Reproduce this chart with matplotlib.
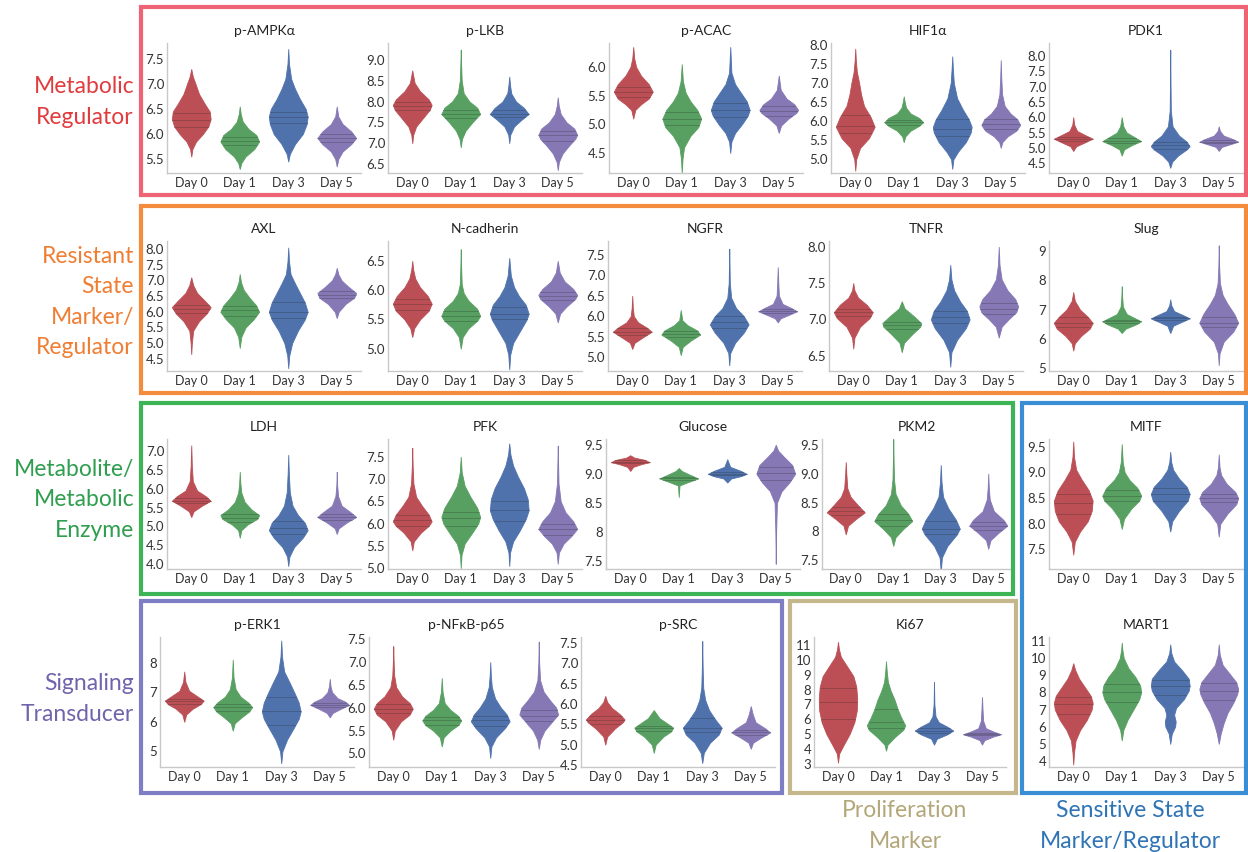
import numpy as np
import matplotlib.pyplot as plt
from matplotlib.patches import Rectangle

plt.rcParams['font.family'] = ['Lato', 'DejaVu Sans']

days = ['Day 0', 'Day 1', 'Day 3', 'Day 5']
day_colors = ['#bb4f55', '#58a062', '#4f72ad', '#8678b5']

# each violin: (expression values, relative density)
ampk = [([5.55, 5.7, 5.85, 6.0, 6.15, 6.3, 6.45, 6.6, 6.8, 7.0, 7.15, 7.3], [0, .06, .25, .6, .88, 1, .95, .7, .4, .22, .08, 0]),
        ([5.3, 5.42, 5.55, 5.7, 5.85, 5.98, 6.1, 6.25, 6.4, 6.55], [0, .08, .3, .75, 1, .85, .45, .15, .05, 0]),
        ([5.45, 5.6, 5.8, 6.0, 6.2, 6.35, 6.5, 6.7, 6.9, 7.1, 7.4, 7.7], [0, .08, .35, .75, .95, 1, .9, .6, .35, .15, .04, 0]),
        ([5.35, 5.5, 5.65, 5.8, 5.92, 6.05, 6.2, 6.35, 6.55], [0, .08, .3, .75, 1, .75, .3, .08, 0])]
ampk_q = [(6.15, 6.28, 6.42), (5.78, 5.86, 5.95), (6.22, 6.34, 6.45), (5.85, 5.92, 6.0)]

lkb = [([7.0, 7.2, 7.4, 7.6, 7.8, 7.92, 8.05, 8.25, 8.45, 8.75], [0, .05, .2, .55, .9, 1, .85, .4, .12, 0]),
       ([6.9, 7.1, 7.3, 7.5, 7.7, 7.85, 8.0, 8.2, 8.5, 8.9, 9.25], [0, .06, .25, .6, 1, .85, .45, .15, .05, .02, 0]),
       ([7.0, 7.2, 7.4, 7.55, 7.7, 7.85, 8.0, 8.2, 8.4, 8.6], [0, .05, .25, .6, 1, .75, .35, .1, .04, 0]),
       ([6.35, 6.55, 6.75, 6.95, 7.1, 7.2, 7.35, 7.5, 7.7, 7.9, 8.1], [0, .06, .25, .6, .9, 1, .85, .45, .15, .05, 0])]
lkb_q = [(7.8, 7.9, 8.0), (7.6, 7.7, 7.8), (7.62, 7.7, 7.8), (7.05, 7.2, 7.3)]

acac = [([5.1, 5.25, 5.35, 5.45, 5.57, 5.7, 5.85, 6.0, 6.15, 6.35], [0, .1, .4, .8, 1, .8, .4, .15, .05, 0]),
        ([4.15, 4.4, 4.6, 4.8, 4.95, 5.1, 5.25, 5.4, 5.55, 5.75, 6.05], [0, .04, .12, .45, .85, 1, .8, .45, .2, .06, 0]),
        ([4.5, 4.7, 4.85, 5.0, 5.15, 5.25, 5.4, 5.55, 5.7, 5.9, 6.35], [0, .06, .25, .6, .9, 1, .85, .55, .25, .06, 0]),
        ([4.85, 4.98, 5.1, 5.2, 5.25, 5.35, 5.45, 5.6, 5.85], [0, .12, .5, .9, 1, .8, .4, .1, 0])]
acac_q = [(5.48, 5.57, 5.66), (4.98, 5.1, 5.22), (5.12, 5.25, 5.37), (5.15, 5.23, 5.32)]

hif = [([4.7, 5.0, 5.3, 5.55, 5.85, 6.1, 6.4, 6.7, 7.0, 7.3, 7.6, 7.9], [0, .05, .25, .7, 1, .8, .45, .3, .2, .08, .03, 0]),
       ([5.45, 5.6, 5.75, 5.88, 5.97, 6.08, 6.2, 6.35, 6.5, 6.65], [0, .08, .35, .8, 1, .8, .35, .12, .05, 0]),
       ([4.75, 5.0, 5.2, 5.45, 5.7, 5.85, 6.05, 6.3, 6.6, 7.0, 7.4, 7.7], [0, .06, .3, .7, .95, 1, .85, .55, .25, .08, .03, 0]),
       ([5.3, 5.45, 5.6, 5.75, 5.9, 6.05, 6.2, 6.4, 6.7, 7.1, 7.6], [0, .08, .35, .8, 1, .85, .5, .2, .07, .03, 0])]
hif_q = [(5.7, 5.88, 6.15), (5.9, 5.97, 6.03), (5.6, 5.8, 6.05), (5.8, 5.92, 6.05)]

pdk1 = [([4.9, 5.05, 5.18, 5.3, 5.42, 5.55, 5.75, 6.0], [0, .15, .6, 1, .6, .2, .05, 0]),
        ([4.75, 4.95, 5.1, 5.22, 5.35, 5.5, 5.7, 6.0], [0, .12, .55, 1, .65, .25, .08, 0]),
        ([4.35, 4.55, 4.75, 4.95, 5.05, 5.2, 5.4, 5.7, 6.2, 7.0, 8.2], [0, .1, .4, .85, 1, .85, .45, .12, .03, .015, 0]),
        ([4.9, 5.03, 5.13, 5.2, 5.28, 5.4, 5.55, 5.7], [0, .15, .65, 1, .75, .25, .06, 0])]
pdk1_q = [(5.22, 5.3, 5.36), (5.15, 5.23, 5.32), (4.95, 5.08, 5.2), (5.15, 5.2, 5.26)]

axl = [([4.65, 5.0, 5.4, 5.7, 5.95, 6.15, 6.35, 6.6, 6.85, 7.1], [0, .03, .1, .4, .8, 1, .7, .3, .1, 0]),
       ([4.85, 5.2, 5.5, 5.75, 6.0, 6.2, 6.45, 6.7, 6.95, 7.2], [0, .08, .3, .7, 1, .85, .5, .2, .06, 0]),
       ([4.2, 4.6, 5.0, 5.4, 5.75, 6.0, 6.3, 6.6, 6.9, 7.2, 7.6, 8.05], [0, .05, .2, .5, .85, 1, .85, .6, .35, .12, .04, 0]),
       ([5.8, 6.0, 6.25, 6.45, 6.6, 6.8, 7.0, 7.2, 7.4], [0, .1, .45, .9, 1, .6, .25, .08, 0])]
axl_q = [(5.95, 6.1, 6.22), (5.85, 6.05, 6.2), (5.8, 6.0, 6.3), (6.45, 6.55, 6.65)]

ncad = [([5.2, 5.35, 5.5, 5.65, 5.77, 5.9, 6.05, 6.2, 6.35, 6.5], [0, .1, .4, .85, 1, .8, .4, .15, .05, 0]),
        ([5.0, 5.2, 5.35, 5.48, 5.56, 5.68, 5.82, 5.95, 6.1, 6.4, 6.7], [0, .1, .4, .85, 1, .85, .4, .15, .05, .02, 0]),
        ([4.65, 4.9, 5.1, 5.3, 5.5, 5.6, 5.75, 5.9, 6.05, 6.25, 6.55], [0, .05, .2, .55, .9, 1, .85, .5, .25, .08, 0]),
        ([5.45, 5.6, 5.72, 5.85, 5.92, 6.02, 6.15, 6.3, 6.5], [0, .12, .45, .9, 1, .8, .35, .1, 0])]
ncad_q = [(5.67, 5.77, 5.85), (5.48, 5.56, 5.64), (5.5, 5.6, 5.72), (5.83, 5.9, 5.97)]

ngfr = [([5.2, 5.35, 5.5, 5.62, 5.72, 5.85, 6.0, 6.2, 6.5], [0, .12, .6, 1, .75, .3, .08, .03, 0]),
        ([5.05, 5.25, 5.4, 5.55, 5.65, 5.78, 5.9, 6.15], [0, .1, .5, 1, .85, .35, .08, 0]),
        ([4.8, 5.1, 5.35, 5.6, 5.8, 6.0, 6.2, 6.45, 6.8, 7.2, 7.65], [0, .05, .3, .75, 1, .75, .35, .1, .03, .015, 0]),
        ([5.85, 5.95, 6.05, 6.12, 6.2, 6.3, 6.5, 6.8, 7.2], [0, .15, .65, 1, .7, .25, .06, .03, 0])]
ngfr_q = [(5.55, 5.62, 5.7), (5.48, 5.56, 5.63), (5.7, 5.85, 6.0), (6.07, 6.12, 6.18)]

tnfr = [([6.6, 6.75, 6.9, 7.02, 7.1, 7.2, 7.3, 7.4, 7.5], [0, .06, .35, .85, 1, .7, .25, .06, 0]),
        ([6.55, 6.68, 6.8, 6.9, 6.95, 7.05, 7.15, 7.25], [0, .12, .55, .95, 1, .6, .15, 0]),
        ([6.35, 6.55, 6.72, 6.88, 7.0, 7.12, 7.25, 7.4, 7.55, 7.75], [0, .06, .35, .8, 1, .85, .5, .2, .06, 0]),
        ([6.75, 6.9, 7.0, 7.1, 7.18, 7.28, 7.4, 7.55, 7.75, 8.0], [0, .15, .5, .9, 1, .85, .45, .15, .04, 0])]
tnfr_q = [(7.05, 7.1, 7.15), (6.87, 6.92, 6.97), (6.95, 7.03, 7.12), (7.08, 7.15, 7.22)]

slug = [([5.6, 5.85, 6.1, 6.35, 6.55, 6.75, 7.0, 7.3, 7.6], [0, .08, .4, .85, 1, .75, .35, .08, 0]),
        ([6.2, 6.35, 6.5, 6.6, 6.7, 6.85, 7.1, 7.45, 7.8], [0, .2, .75, 1, .7, .25, .06, .02, 0]),
        ([6.2, 6.45, 6.6, 6.7, 6.8, 6.95, 7.15, 7.35], [0, .15, .65, 1, .7, .2, .05, 0]),
        ([5.1, 5.5, 5.9, 6.25, 6.55, 6.85, 7.2, 7.5, 7.9, 8.5, 9.2], [0, .04, .25, .75, 1, .8, .45, .2, .06, .02, 0])]
slug_q = [(6.4, 6.55, 6.75), (6.55, 6.6, 6.65), (6.65, 6.7, 6.75), (6.4, 6.55, 6.75)]

ldh = [([5.25, 5.4, 5.55, 5.68, 5.8, 5.95, 6.2, 6.6, 7.15], [0, .12, .55, 1, .75, .3, .08, .03, 0]),
       ([4.7, 4.9, 5.05, 5.2, 5.3, 5.45, 5.65, 5.9, 6.15, 6.45], [0, .08, .4, .9, 1, .6, .25, .08, .03, 0]),
       ([3.95, 4.2, 4.45, 4.7, 4.9, 5.1, 5.3, 5.55, 5.9, 6.4, 6.9], [0, .06, .3, .75, 1, .85, .5, .22, .08, .03, 0]),
       ([4.8, 4.95, 5.1, 5.25, 5.38, 5.55, 5.8, 6.1, 6.45], [0, .1, .5, 1, .7, .25, .07, .02, 0])]
ldh_q = [(5.62, 5.68, 5.75), (5.12, 5.22, 5.32), (4.8, 4.95, 5.15), (5.18, 5.25, 5.32)]

pfk = [([5.4, 5.6, 5.8, 5.95, 6.05, 6.2, 6.4, 6.6, 6.9, 7.3, 7.7], [0, .08, .45, .85, 1, .85, .5, .2, .06, .02, 0]),
       ([5.0, 5.3, 5.55, 5.8, 6.0, 6.15, 6.35, 6.6, 6.85, 7.15, 7.5], [0, .04, .2, .6, .9, 1, .85, .5, .2, .05, 0]),
       ([5.05, 5.35, 5.6, 5.85, 6.1, 6.3, 6.55, 6.8, 7.05, 7.3, 7.55, 7.8], [0, .04, .2, .55, .85, 1, .95, .75, .45, .2, .06, 0]),
       ([5.1, 5.35, 5.55, 5.72, 5.88, 6.05, 6.25, 6.5, 6.9, 7.3, 7.75], [0, .06, .3, .7, 1, .8, .4, .15, .04, .02, 0])]
pfk_q = [(5.95, 6.08, 6.2), (5.95, 6.12, 6.25), (6.05, 6.3, 6.5), (5.75, 5.88, 6.0)]

glucose = [([9.05, 9.12, 9.17, 9.2, 9.24, 9.28, 9.32], [0, .15, .6, 1, .75, .2, 0]),
           ([8.6, 8.8, 8.86, 8.92, 8.98, 9.05, 9.1], [0, .04, .5, 1, .6, .15, 0]),
           ([8.85, 8.92, 8.96, 9.0, 9.05, 9.12, 9.25], [0, .2, .7, 1, .7, .15, 0]),
           ([7.45, 8.0, 8.5, 8.7, 8.85, 9.0, 9.15, 9.3, 9.4, 9.5], [0, .02, .06, .3, .7, 1, .85, .4, .12, 0])]
glucose_q = [(9.18, 9.2, 9.23), (8.9, 8.92, 8.95), (8.98, 9.0, 9.03), (8.9, 9.02, 9.12)]

pkm2 = [([7.95, 8.1, 8.22, 8.33, 8.45, 8.6, 8.75, 9.0, 9.2], [0, .12, .55, 1, .65, .25, .08, .03, 0]),
        ([7.75, 7.9, 8.05, 8.18, 8.3, 8.45, 8.65, 8.9, 9.2, 9.6], [0, .12, .55, 1, .8, .4, .12, .04, .02, 0]),
        ([7.3, 7.55, 7.75, 7.95, 8.05, 8.2, 8.4, 8.6, 8.85, 9.15], [0, .06, .35, .85, 1, .8, .4, .12, .04, 0]),
        ([7.7, 7.85, 7.98, 8.1, 8.2, 8.35, 8.55, 8.75, 9.0], [0, .12, .55, 1, .8, .3, .08, .03, 0])]
pkm2_q = [(8.28, 8.35, 8.42), (8.1, 8.2, 8.3), (7.95, 8.05, 8.18), (8.03, 8.1, 8.17)]

mitf = [([7.4, 7.65, 7.85, 8.05, 8.25, 8.45, 8.65, 8.85, 9.05, 9.3, 9.6], [0, .08, .35, .75, .95, 1, .8, .45, .15, .04, 0]),
        ([7.9, 8.1, 8.3, 8.45, 8.55, 8.7, 8.85, 9.0, 9.2, 9.55], [0, .12, .5, .9, 1, .8, .4, .15, .05, 0]),
        ([7.85, 8.05, 8.25, 8.45, 8.58, 8.72, 8.88, 9.05, 9.2, 9.4], [0, .1, .45, .9, 1, .85, .45, .15, .05, 0]),
        ([7.75, 8.0, 8.2, 8.38, 8.5, 8.62, 8.78, 8.95, 9.1, 9.35], [0, .08, .45, .9, 1, .85, .4, .12, .04, 0])]
mitf_q = [(8.2, 8.4, 8.58), (8.45, 8.55, 8.65), (8.45, 8.58, 8.7), (8.42, 8.5, 8.58)]

erk = [([6.0, 6.25, 6.45, 6.6, 6.72, 6.85, 7.05, 7.35, 7.7], [0, .1, .45, .85, 1, .7, .25, .06, 0]),
       ([5.7, 5.95, 6.15, 6.35, 6.5, 6.65, 6.85, 7.1, 7.5, 8.1], [0, .1, .45, .85, 1, .8, .4, .15, .04, 0]),
       ([4.6, 5.0, 5.4, 5.8, 6.1, 6.35, 6.65, 6.95, 7.3, 7.7, 8.2, 8.75], [0, .06, .3, .65, .9, 1, .9, .7, .45, .15, .04, 0]),
       ([6.15, 6.3, 6.45, 6.57, 6.68, 6.8, 7.0, 7.2, 7.45], [0, .15, .6, 1, .8, .4, .12, .04, 0])]
erk_q = [(6.6, 6.7, 6.78), (6.35, 6.5, 6.6), (5.9, 6.35, 6.85), (6.5, 6.57, 6.65)]

nfkb = [([5.3, 5.5, 5.7, 5.85, 5.98, 6.1, 6.25, 6.45, 6.7, 7.0, 7.35], [0, .08, .4, .85, 1, .85, .45, .15, .05, .02, 0]),
        ([5.15, 5.35, 5.5, 5.62, 5.72, 5.82, 5.95, 6.1, 6.35, 6.65], [0, .1, .45, .85, 1, .85, .45, .15, .04, 0]),
        ([4.9, 5.15, 5.35, 5.55, 5.7, 5.85, 6.0, 6.2, 6.45, 6.7, 7.0], [0, .06, .3, .75, 1, .85, .55, .25, .08, .03, 0]),
        ([5.1, 5.3, 5.5, 5.7, 5.85, 6.0, 6.15, 6.35, 6.6, 7.0, 7.45], [0, .08, .3, .7, 1, .9, .6, .25, .07, .02, 0])]
nfkb_q = [(5.88, 5.98, 6.08), (5.63, 5.72, 5.8), (5.6, 5.72, 5.82), (5.7, 5.82, 5.95)]

src = [([5.0, 5.2, 5.4, 5.55, 5.62, 5.75, 5.9, 6.05, 6.2], [0, .1, .5, .9, 1, .75, .35, .1, 0]),
       ([4.8, 5.0, 5.2, 5.33, 5.42, 5.52, 5.65, 5.85], [0, .1, .5, .9, 1, .7, .3, 0]),
       ([4.55, 4.8, 5.05, 5.25, 5.42, 5.6, 5.85, 6.1, 6.4, 6.9, 7.55], [0, .08, .4, .85, 1, .7, .35, .15, .05, .02, 0]),
       ([4.9, 5.05, 5.18, 5.3, 5.4, 5.55, 5.75, 5.95], [0, .12, .55, 1, .75, .25, .1, 0])]
src_q = [(5.5, 5.6, 5.7), (5.33, 5.4, 5.46), (5.3, 5.42, 5.65), (5.25, 5.3, 5.37)]

ki67 = [([3.1, 3.7, 4.3, 5.0, 5.8, 6.6, 7.4, 8.2, 8.9, 9.6, 10.2, 10.7, 11.2], [0, .06, .3, .6, .85, .98, 1, .95, .8, .45, .15, .05, 0]),
        ([3.9, 4.3, 4.8, 5.3, 5.6, 6.1, 6.7, 7.3, 7.9, 8.5, 9.2, 9.9], [0, .08, .45, .9, 1, .8, .6, .45, .25, .1, .04, 0]),
        ([4.3, 4.7, 5.0, 5.25, 5.5, 5.8, 6.2, 7.0, 8.5], [0, .15, .7, 1, .7, .25, .08, .02, 0]),
        ([4.3, 4.6, 4.85, 5.0, 5.15, 5.4, 5.9, 6.6, 7.5], [0, .12, .6, 1, .65, .2, .06, .03, 0])]
ki67_q = [(6.0, 7.15, 8.1), (5.4, 5.85, 6.7), (5.1, 5.25, 5.4), (4.95, 5.02, 5.1)]

mart1 = [([3.8, 4.5, 5.2, 5.8, 6.4, 7.0, 7.4, 7.8, 8.3, 8.8, 9.3, 9.7], [0, .04, .12, .35, .7, .95, 1, .9, .6, .3, .1, 0]),
         ([5.2, 5.8, 6.4, 7.0, 7.6, 8.0, 8.4, 8.9, 9.4, 10.0, 10.5, 10.9], [0, .08, .3, .6, .9, 1, .95, .7, .35, .1, .03, 0]),
         ([5.0, 5.6, 6.0, 6.3, 6.7, 7.1, 7.6, 8.1, 8.4, 8.8, 9.3, 9.8, 10.3, 10.8], [0, .08, .25, .28, .2, .3, .7, .95, 1, .95, .6, .2, .05, 0]),
         ([5.0, 5.6, 6.2, 6.8, 7.4, 7.9, 8.2, 8.6, 9.1, 9.6, 10.2, 10.8], [0, .1, .25, .45, .75, .95, 1, .9, .55, .2, .05, 0])]
mart1_q = [(6.75, 7.35, 7.75), (7.45, 8.0, 8.5), (7.85, 8.4, 8.75), (7.55, 8.1, 8.55)]

titles = ['p-AMPKα', 'p-LKB', 'p-ACAC', 'HIF1α', 'PDK1',
          'AXL', 'N-cadherin', 'NGFR', 'TNFR', 'Slug',
          'LDH', 'PFK', 'Glucose', 'PKM2', 'MITF',
          'p-ERK1', 'p-NFκB-p65', 'p-SRC', 'Ki67', 'MART1']
shapes = [ampk, lkb, acac, hif, pdk1, axl, ncad, ngfr, tnfr, slug,
          ldh, pfk, glucose, pkm2, mitf, erk, nfkb, src, ki67, mart1]
quarts = [ampk_q, lkb_q, acac_q, hif_q, pdk1_q, axl_q, ncad_q, ngfr_q, tnfr_q, slug_q,
          ldh_q, pfk_q, glucose_q, pkm2_q, mitf_q, erk_q, nfkb_q, src_q, ki67_q, mart1_q]
ylims = [(5.22, 7.82), (6.28, 9.41), (4.15, 6.42), (4.64, 8.05), (4.18, 8.42),
         (4.11, 8.26), (4.62, 6.84), (4.66, 7.84), (6.29, 8.08), (4.9, 9.35),
         (3.87, 7.32), (4.98, 7.9), (7.36, 9.6), (7.35, 9.6), (7.12, 9.65),
         (4.47, 8.87), (4.7, 7.55), (4.45, 7.65), (2.8, 11.53), (3.65, 11.23)]
yticks = [['5.5', '6.0', '6.5', '7.0', '7.5'],
          ['6.5', '7.0', '7.5', '8.0', '8.5', '9.0'],
          ['4.5', '5.0', '5.5', '6.0'],
          ['5.0', '5.5', '6.0', '6.5', '7.0', '7.5', '8.0'],
          ['4.5', '5.0', '5.5', '6.0', '6.5', '7.0', '7.5', '8.0'],
          ['4.5', '5.0', '5.5', '6.0', '6.5', '7.0', '7.5', '8.0'],
          ['5.0', '5.5', '6.0', '6.5'],
          ['5.0', '5.5', '6.0', '6.5', '7.0', '7.5'],
          ['6.5', '7.0', '7.5', '8.0'],
          ['5', '6', '7', '8', '9'],
          ['4.0', '4.5', '5.0', '5.5', '6.0', '6.5', '7.0'],
          ['5.0', '5.5', '6.0', '6.5', '7.0', '7.5'],
          ['7.5', '8', '8.5', '9.0', '9.5'],
          ['7.5', '8', '8.5', '9.0', '9.5'],
          ['7.5', '8.0', '8.5', '9.0', '9.5'],
          ['5', '6', '7', '8'],
          ['5.0', '5.5', '6.0', '6.5', '7.0', '7.5'],
          ['4.5', '5.0', '5.5', '6.0', '6.5', '7.0', '7.5'],
          ['3', '4', '5', '6', '7', '8', '9', '10', '11'],
          ['4', '5', '6', '7', '8', '9', '10', '11']]

groups = ['Metabolic\nRegulator', 'Resistant\nState\nMarker/\nRegulator',
          'Metabolite/\nMetabolic\nEnzyme', 'Signaling\nTransducer',
          'Proliferation\nMarker', 'Sensitive State\nMarker/Regulator']
group_colors = ['#e03c3f', '#ef7e33', '#2f9e4f', '#6f64ad', '#b3a77a', '#2f74b5']
box_colors = ['#ef6474', '#f38d3d', '#3db456', '#7d7ec4', '#c3b78b', '#3a8fd4']

W, H = 1248, 852
fig = plt.figure(figsize=(W / 100, H / 100), dpi=100)


def fx(x):
    return x / W


def fy(y):
    return 1 - y / H


# panel slots in pixels: left, top, width  (height 130 for all)
tops = [43] * 5 + [241] * 5 + [439] * 5 + [637] * 5
lefts = [167, 388, 609, 831, 1049,
         167, 388, 608, 829, 1049,
         167, 388, 606, 822, 1049,
         160, 369, 581, 814, 1049]
widths = [194] * 13 + [190] + [194] * 4 + [192, 194]
ph = 130

for i in range(20):
    ax = fig.add_axes([fx(lefts[i]), fy(tops[i] + ph), widths[i] / W, ph / H])
    ax.patch.set_alpha(0)
    stats = []
    for vals, dens in shapes[i]:
        stats.append(dict(coords=np.array(vals), vals=np.array(dens, float),
                          mean=np.nan, median=np.nan, min=vals[0], max=vals[-1]))
    parts = ax.violin(stats, positions=range(4), widths=0.8, showmeans=False,
                      showextrema=False, showmedians=False)
    for body, c in zip(parts['bodies'], day_colors):
        body.set_facecolor(c)
        body.set_edgecolor(c)
        body.set_alpha(1)
        body.set_linewidth(0.6)
    for j, ((vals, dens), qs) in enumerate(zip(shapes[i], quarts[i])):
        for q in qs:
            hw = 0.4 * np.interp(q, vals, dens)
            ax.plot([j - hw, j + hw], [q, q], color='#222222', lw=0.5, alpha=0.35)
    ax.set_xlim(-0.5, 3.5)
    ax.set_ylim(*ylims[i])
    ax.set_xticks(range(4), days)
    ax.set_yticks([float(t) for t in yticks[i]], yticks[i])
    for s in ['top', 'right']:
        ax.spines[s].set_visible(False)
    for s in ['left', 'bottom']:
        ax.spines[s].set_color('#c8c8c8')
        ax.spines[s].set_linewidth(1)
    ax.tick_params(axis='x', length=0, labelsize=9, colors='#333333', pad=3)
    ax.tick_params(axis='y', length=0, labelsize=9.5, colors='#333333', pad=2)
    ax.set_title(titles[i], fontsize=10, pad=6, color='#222222')

# group boxes: left, top, right, bottom in pixels
boxes = [(141, 7, 1246, 195), (141, 206, 1246, 393), (141, 403, 1013, 594),
         (141, 601, 782, 793), (790, 601, 1016, 793), (1022, 403, 1246, 793)]
for (l, t, r, b), c in zip(boxes, box_colors):
    fig.add_artist(Rectangle((fx(l), fy(b)), (r - l) / W, (b - t) / H,
                             transform=fig.transFigure, fill=False,
                             edgecolor=c, linewidth=3))

label_pos = [(134, 102, 'right'), (134, 302, 'right'), (134, 500, 'right'),
             (134, 699, 'right'), (905, 826, 'center'), (1130, 826, 'center')]
for txt, (x, y, ha), c in zip(groups, label_pos, group_colors):
    fig.text(fx(x), fy(y), txt, ha=ha, va='center', multialignment=ha,
             fontsize=16.5, color=c, linespacing=1.55)

fig.savefig('out.png', dpi=100)
